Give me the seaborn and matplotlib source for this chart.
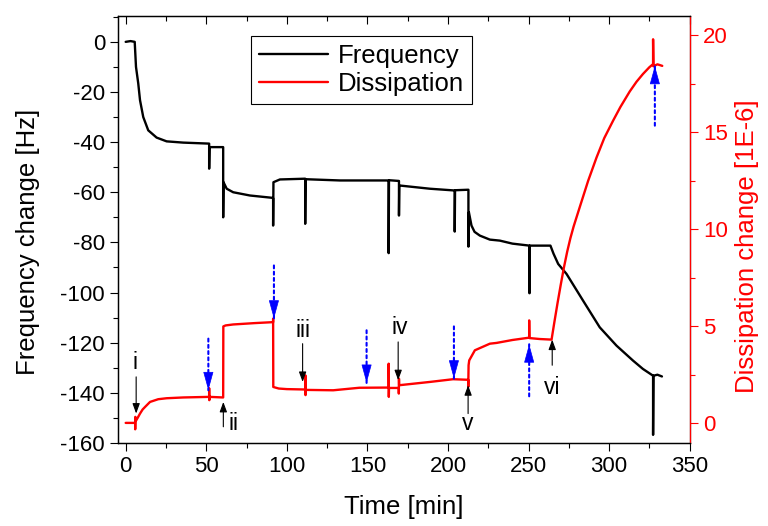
import matplotlib

matplotlib.use("Agg")

import matplotlib.lines as mlines
import matplotlib.pyplot as plt
import pandas as pd
import seaborn as sns
from matplotlib.lines import Line2D
from matplotlib.ticker import MultipleLocator

# Frequency trace (black, left axis)
freq_time = [
    0, 3, 5.6, 6.4, 7.8, 8.9, 10.9, 14, 19.2, 25.4, 35.7, 51.8,
    51.8, 52.0, 60.5, 60.5, 60.7, 62.7, 66.7, 77.1, 90.6, 91.5,
    91.5, 91.7, 95.7, 111.4, 111.4, 111.6, 133, 163.2, 163.2, 163.4,
    169.6, 169.6, 169.8, 188.8, 204.2, 204.2, 204.4, 212.7, 212.7, 213.0,
    214.6, 216.5, 219.8, 226, 232.2, 240, 250.6, 250.6, 250.8, 263.6,
    265.5, 268.4, 273.6, 283.9, 294.2, 304.6, 314.9, 321, 327.3, 327.3,
    327.5, 330, 332.8,
]
freq_val = [
    0, 0.3, 0, -10, -16.6, -23.3, -30, -35.3, -38.2, -39.7, -40.2, -40.6,
    -50.6, -42, -42, -70, -56, -58.6, -60, -61.3, -62.2, -62.4,
    -73.3, -56, -54.9, -54.6, -72.6, -54.8, -55.3, -55.3, -84.3, -55.2,
    -55.5, -69.3, -57.3, -58.6, -59.3, -75.7, -59.2, -59, -81.7, -68,
    -73.3, -75.8, -77.3, -78.9, -79.3, -80.5, -81.3, -100.3, -81.3, -81.3,
    -84.5, -88.6, -92.6, -103.3, -113.9, -121.2, -127.2, -130.5, -133.2, -156.8,
    -133.2, -132.8, -133.5,
]

# Dissipation trace (red, right axis)
diss_time = [
    0, 5.9, 5.9, 6.0, 6.1, 7.5, 8.9, 10.5, 12, 15.1, 20.2, 25.4,
    35.7, 51.8, 51.8, 51.9, 52.0, 60.5, 60.6, 62, 66.7, 80,
    91.5, 91.5, 91.6, 95, 100, 111.5, 111.5, 111.6, 111.7, 128.8,
    145, 163.2, 163.2, 163.3, 163.4, 169.5, 169.5, 169.6, 169.7, 188.8,
    203.2, 212.6, 212.6, 212.8, 213.2, 216.7, 226, 230.2, 240, 250.4,
    250.4, 250.5, 257, 264.3, 266, 268, 270, 272, 274, 276,
    278, 282, 287, 292.2, 297, 302.5, 307, 312.8, 317, 321,
    325, 327.3, 327.3, 327.5, 330, 333,
]
diss_val = [
    0.03, 0.03, -0.3, 0.34, 0.1, 0.3, 0.51, 0.72, 0.85, 1.11, 1.25, 1.3,
    1.34, 1.37, 1.82, 1.2, 1.37, 1.34, 5.0, 5.05, 5.1, 5.17,
    5.22, 5.4, 1.88, 1.8, 1.77, 1.75, 2.48, 1.46, 1.73, 1.71,
    1.84, 1.85, 3.08, 1.37, 1.83, 1.83, 1.54, 2.31, 1.97, 2.14,
    2.28, 2.25, 1.88, 3.0, 3.25, 3.77, 4.11, 4.15, 4.3, 4.42,
    5.31, 4.4, 4.35, 4.32, 5.2, 6.2, 7.15, 8.05, 8.85, 9.55,
    10.15, 11.2, 12.5, 13.7, 14.7, 15.6, 16.3, 17.1, 17.6, 18.0,
    18.35, 18.51, 19.79, 18.4, 18.5, 18.42,
]

# Step markers (black arrows) in dissipation units
step_labels = ["i", "ii", "iii", "iv", "v", "vi"]
step_time = [6.5, 60.6, 109.8, 169.1, 212.5, 264.7]
step_tail = [2.4, -0.17, 4.11, 4.2, 0.51, 3.0]
step_head = [0.51, 1.11, 2.14, 2.23, 1.97, 4.32]
label_time = [5.9, 66.7, 110.2, 170.2, 212.5, 264.7]
label_diss = [3.15, 0.0, 4.8, 4.94, 0.0, 1.85]

# Rinse markers (blue dotted arrows)
rinse_time = [51.3, 92, 149.5, 203.7, 250.4, 328.4]
rinse_tail = [4.37, 8.14, 4.8, 5.0, 1.4, 15.34]
rinse_head = [1.71, 5.4, 2.09, 2.31, 4.08, 18.42]

sns.set_theme(
    style="ticks",
    rc={
        "axes.edgecolor": "black",
        "axes.labelcolor": "black",
        "text.color": "black",
        "xtick.color": "black",
        "ytick.color": "black",
        "axes.linewidth": 0.9,
        "axes.unicode_minus": False,
    },
)
plt.rcParams["font.family"] = ["Liberation Sans", "DejaVu Sans"]

fig, ax = plt.subplots(figsize=(7.68, 5.26), dpi=100)
fig.subplots_adjust(left=0.154, right=0.898, top=0.970, bottom=0.158)
ax2 = ax.twinx()

freq_df = pd.DataFrame({"time": freq_time, "freq": freq_val})
diss_df = pd.DataFrame({"time": diss_time, "diss": diss_val})

sns.lineplot(data=freq_df, x="time", y="freq", ax=ax, sort=False,
             estimator=None, color="black", lw=1.7)
sns.lineplot(data=diss_df, x="time", y="diss", ax=ax2, sort=False,
             estimator=None, color="red", lw=1.7)

# Axes ranges and ticks
ax.set_xlim(-4.6, 350)
ax.set_ylim(-160, 10.4)
ax2.set_ylim(-1, 21)
ax.xaxis.set_major_locator(MultipleLocator(50))
ax.xaxis.set_minor_locator(MultipleLocator(25))
ax.yaxis.set_major_locator(MultipleLocator(20))
ax.yaxis.set_minor_locator(MultipleLocator(10))
ax2.yaxis.set_major_locator(MultipleLocator(5))
ax2.yaxis.set_minor_locator(MultipleLocator(2.5))

ax.tick_params(which="major", length=6, width=0.8, labelsize=16, direction="out")
ax.tick_params(which="minor", length=3.5, width=0.8, direction="out")
ax.tick_params(axis="x", which="both", top=True, labeltop=False)
ax2.tick_params(axis="y", which="major", length=6, width=0.8, labelsize=16,
                colors="red", direction="out")
ax2.tick_params(axis="y", which="minor", length=3.5, width=0.8, colors="red")
ax2.spines["right"].set_color("red")

ax.set_xlabel("Time [min]", fontsize=18.5, labelpad=13)
ax.set_ylabel("Frequency change [Hz]", fontsize=18.5)
ax2.set_ylabel("Dissipation change [1E-6]", fontsize=18.5, color="red")
ax.yaxis.set_label_coords(-0.137, 0.47)
ax2.yaxis.set_label_coords(1.079, 0.461)

# Step arrows and roman numerals
for lab, t, tail, head, lt, ld in zip(step_labels, step_time, step_tail,
                                      step_head, label_time, label_diss):
    ax2.annotate(
        "", xy=(t, head), xytext=(t, tail),
        arrowprops=dict(arrowstyle="-|>,head_length=0.6,head_width=0.22",
                        color="black", lw=0.8, shrinkA=0, shrinkB=0,
                        mutation_scale=10),
    )
    ax2.text(lt, ld, lab, fontsize=16.5, ha="center", va="center")

# Blue dotted rinse arrows: dotted shaft plus solid triangular head
for t, tail, head in zip(rinse_time, rinse_tail, rinse_head):
    ax2.annotate(
        "", xy=(t, head), xytext=(t, tail),
        arrowprops=dict(arrowstyle="-", color="blue", lw=1.5,
                        linestyle=(0, (1.4, 1.6)), shrinkA=0, shrinkB=0),
    )
    direction = 1 if tail > head else -1
    ax2.annotate(
        "", xy=(t, head), xytext=(0, 12 * direction), textcoords="offset points",
        arrowprops=dict(arrowstyle="-|>,head_length=1.2,head_width=0.33",
                        color="blue", lw=0.5, shrinkA=0, shrinkB=0,
                        mutation_scale=10),
    )

handles = [Line2D([], [], color="black", lw=1.7), Line2D([], [], color="red", lw=1.7)]
leg = ax2.legend(handles, ["Frequency", "Dissipation"], loc="upper left",
                 bbox_to_anchor=(0.232, 0.952), borderaxespad=0, fontsize=18.5,
                 frameon=True, fancybox=False, edgecolor="black", framealpha=1,
                 handlelength=2.7, labelspacing=0.15, borderpad=0.3,
                 handletextpad=0.4)
leg.get_frame().set_linewidth(0.8)

# top ticks point into the plot, bottom ticks point out
fig.canvas.draw()
for tick in ax.xaxis.get_major_ticks() + ax.xaxis.get_minor_ticks():
    tick.tick2line.set_marker(mlines.TICKDOWN)

fig.savefig("out.png", dpi=100)
